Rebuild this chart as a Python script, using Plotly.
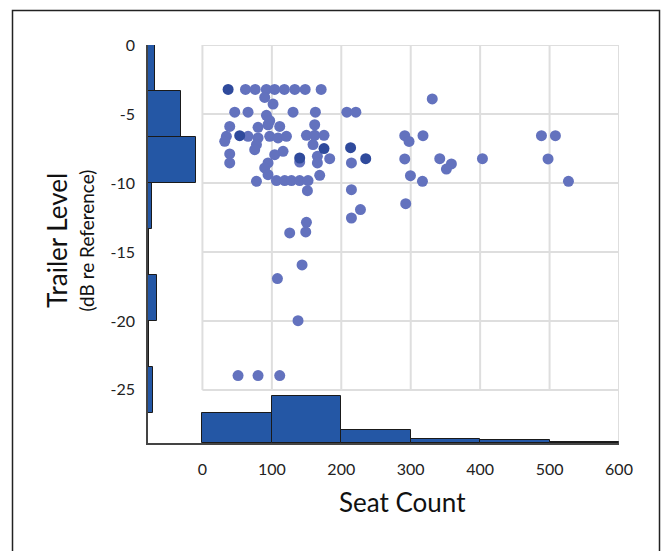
import plotly.graph_objects as go

# ---------------- data ----------------
# scatter: seat count vs trailer level (dB re reference)
seat_count = [62, 76, 92, 104, 118, 133, 148, 171,
              89.7, 101.7,
              46.5, 65.7, 130.5, 162.7, 208, 221,
              92.2, 96.9,
              39.3, 80.1, 94.5, 111.3, 161.7,
              34.5, 32.1, 65.7, 80.1, 96.9, 108.9, 121,
              149.8, 161.7, 175.1,
              77.8, 75.3, 116.1,
              104.1, 39.3, 39.3, 94.5, 89.7, 94.5,
              77.8, 106.6, 118.5, 128.2, 140.1, 152.1, 151.2,
              159.3, 140.1, 165.6, 165.6, 183.3, 168.9,
              214.6, 214.6, 227.6, 214.6,
              149.8, 148.8, 125.7, 143.5, 108, 137.7, 51.3, 80.1, 111.3,
              331, 291.4, 297.6, 317.7, 291.4, 341.8, 358.6, 351.4, 299.6,
              316.9, 292.8, 403.3, 488.3, 508.4, 497.8, 527.2]
trailer_level = [-3.22, -3.22, -3.22, -3.22, -3.22, -3.22, -3.22, -3.22,
                 -3.8, -4.28,
                 -4.87, -4.87, -4.87, -4.87, -4.87, -4.87,
                 -5.1, -5.49,
                 -5.9, -5.97, -5.78, -5.9, -5.78,
                 -6.62, -6.98, -6.62, -6.74, -6.62, -6.74, -6.62,
                 -6.55, -6.55, -6.55,
                 -7.22, -7.59, -7.71,
                 -7.95, -7.9, -8.55, -8.55, -8.91, -9.4,
                 -9.88, -9.83, -9.83, -9.83, -9.83, -9.83, -10.56,
                 -7.22, -8.48, -8.07, -8.55, -8.24, -9.45,
                 -8.55, -10.49, -11.93, -12.54,
                 -12.85, -13.55, -13.62, -15.94, -16.93, -19.98, -23.96, -23.96, -23.96,
                 -3.91, -6.57, -6.99, -6.57, -8.26, -8.24, -8.62, -8.99, -9.47,
                 -9.88, -11.5, -8.24, -6.57, -6.57, -8.26, -9.88]
# darker (coincident) points
dark_seat = [37, 53.7, 140.1, 175.1, 213.4, 235.2]
dark_level = [-3.22, -6.57, -8.19, -7.51, -7.44, -8.24]

# marginal histogram of trailer level (left), bins of 3.33 dB from 0 down
level_bin_centers = [-1.667, -5.0, -8.333, -11.667, -15.0, -18.333, -21.667, -25.0]
level_counts = [7, 33, 48, 4, 1, 9, 1, 5]
# marginal histogram of seat count (bottom), bins of 100 seats
seat_bin_centers = [50, 150, 250, 350, 450, 550]
seat_counts = [33, 52, 15, 5, 3, 1]

x_ticks = [0, 100, 200, 300, 400, 500, 600]
y_ticks = [0, -5, -10, -15, -20, -25]

# ---------------- layout constants ----------------
W, H = 666, 551
ML, MR, MT, MB = 148, 47, 45, 108
X_RANGE = [-78.4, 600]
Y_RANGE = [-28.85, 0]
LEFT_SCALE = 1.44      # x-units per count (left histogram)
BOTTOM_SCALE = 0.0652  # dB per count (bottom histogram)

PW, PH = W - ML - MR, H - MT - MB
def px_x(p):
    return (p - ML) / PW
def px_y(p):
    return (H - MB - p) / PH

BAR = "#2457a5"
PT = "#6372be"
PT_DARK = "#2f4a9c"
GRID = "#dedede"
FONT = "Lato"

fig = go.Figure()

# left histogram
fig.add_trace(go.Bar(
    y=level_bin_centers, x=[c * LEFT_SCALE for c in level_counts],
    base=X_RANGE[0], orientation="h", width=10 / 3,
    marker=dict(color=BAR, line=dict(color="#1a1a1a", width=1)),
    showlegend=False, hoverinfo="skip"))
# bottom histogram
fig.add_trace(go.Bar(
    x=seat_bin_centers, y=[c * BOTTOM_SCALE for c in seat_counts],
    base=Y_RANGE[0], width=100,
    marker=dict(color=BAR, line=dict(color="#1a1a1a", width=1)),
    showlegend=False, hoverinfo="skip"))
# scatter
fig.add_trace(go.Scatter(
    x=seat_count, y=trailer_level, mode="markers",
    marker=dict(color=PT, size=11, line=dict(width=0)),
    showlegend=False))
fig.add_trace(go.Scatter(
    x=dark_seat, y=dark_level, mode="markers",
    marker=dict(color=PT_DARK, size=11, line=dict(width=0)),
    showlegend=False))

shapes = []
for xv in x_ticks:
    shapes.append(dict(type="line", xref="x", yref="y", x0=xv, x1=xv,
                       y0=y_ticks[-1], y1=y_ticks[0],
                       line=dict(color=GRID, width=2), layer="below"))
for yv in y_ticks:
    shapes.append(dict(type="line", xref="x", yref="y", x0=x_ticks[0], x1=x_ticks[-1],
                       y0=yv, y1=yv, line=dict(color=GRID, width=2), layer="below"))
shapes.append(dict(type="line", xref="x", yref="y", x0=x_ticks[-1], x1=x_ticks[-1],
                   y0=Y_RANGE[0], y1=y_ticks[-1], line=dict(color=GRID, width=2), layer="below"))
# outer frame
shapes.append(dict(type="rect", xref="paper", yref="paper",
                   x0=px_x(12.5), x1=px_x(659.5), y0=px_y(570), y1=px_y(10.5),
                   line=dict(color="#222222", width=1.5), fillcolor="rgba(0,0,0,0)"))

annotations = [
    dict(text="Seat Count", xref="paper", yref="paper", x=px_x(402.5), y=px_y(502),
         showarrow=False, xanchor="center", yanchor="middle",
         font=dict(family=FONT, size=26, color="#111111")),
    dict(text="Trailer Level", xref="paper", yref="paper", x=px_x(57), y=px_y(241),
         showarrow=False, xanchor="center", yanchor="middle", textangle=-90,
         font=dict(family=FONT, size=26, color="#111111")),
    dict(text="(dB re Reference)", xref="paper", yref="paper", x=px_x(86), y=px_y(240.5),
         showarrow=False, xanchor="center", yanchor="middle", textangle=-90,
         font=dict(family=FONT, size=19, color="#111111")),
]

fig.update_layout(
    width=W, height=H, margin=dict(l=ML, r=MR, t=MT, b=MB),
    paper_bgcolor="white", plot_bgcolor="white",
    barmode="overlay", bargap=0,
    shapes=shapes, annotations=annotations,
    font=dict(family=FONT, size=16, color="#222222"),
    xaxis=dict(range=X_RANGE, tickvals=x_ticks, ticktext=[str(v) for v in x_ticks],
               showgrid=False, zeroline=False, showline=True, linecolor="#444444",
               linewidth=1.5, ticks="", ticklabelstandoff=11,
               tickfont=dict(family=FONT, size=16, color="#222222")),
    yaxis=dict(range=Y_RANGE, tickvals=y_ticks, ticktext=[str(v) for v in y_ticks],
               showgrid=False, zeroline=False, showline=True, linecolor="#444444",
               linewidth=1.5, ticks="", ticklabelstandoff=8,
               tickfont=dict(family=FONT, size=16, color="#222222")),
)

fig.write_html("out.html", config={"displayModeBar": False},
               post_script="document.body.style.margin='0';document.body.style.overflow='hidden';")
